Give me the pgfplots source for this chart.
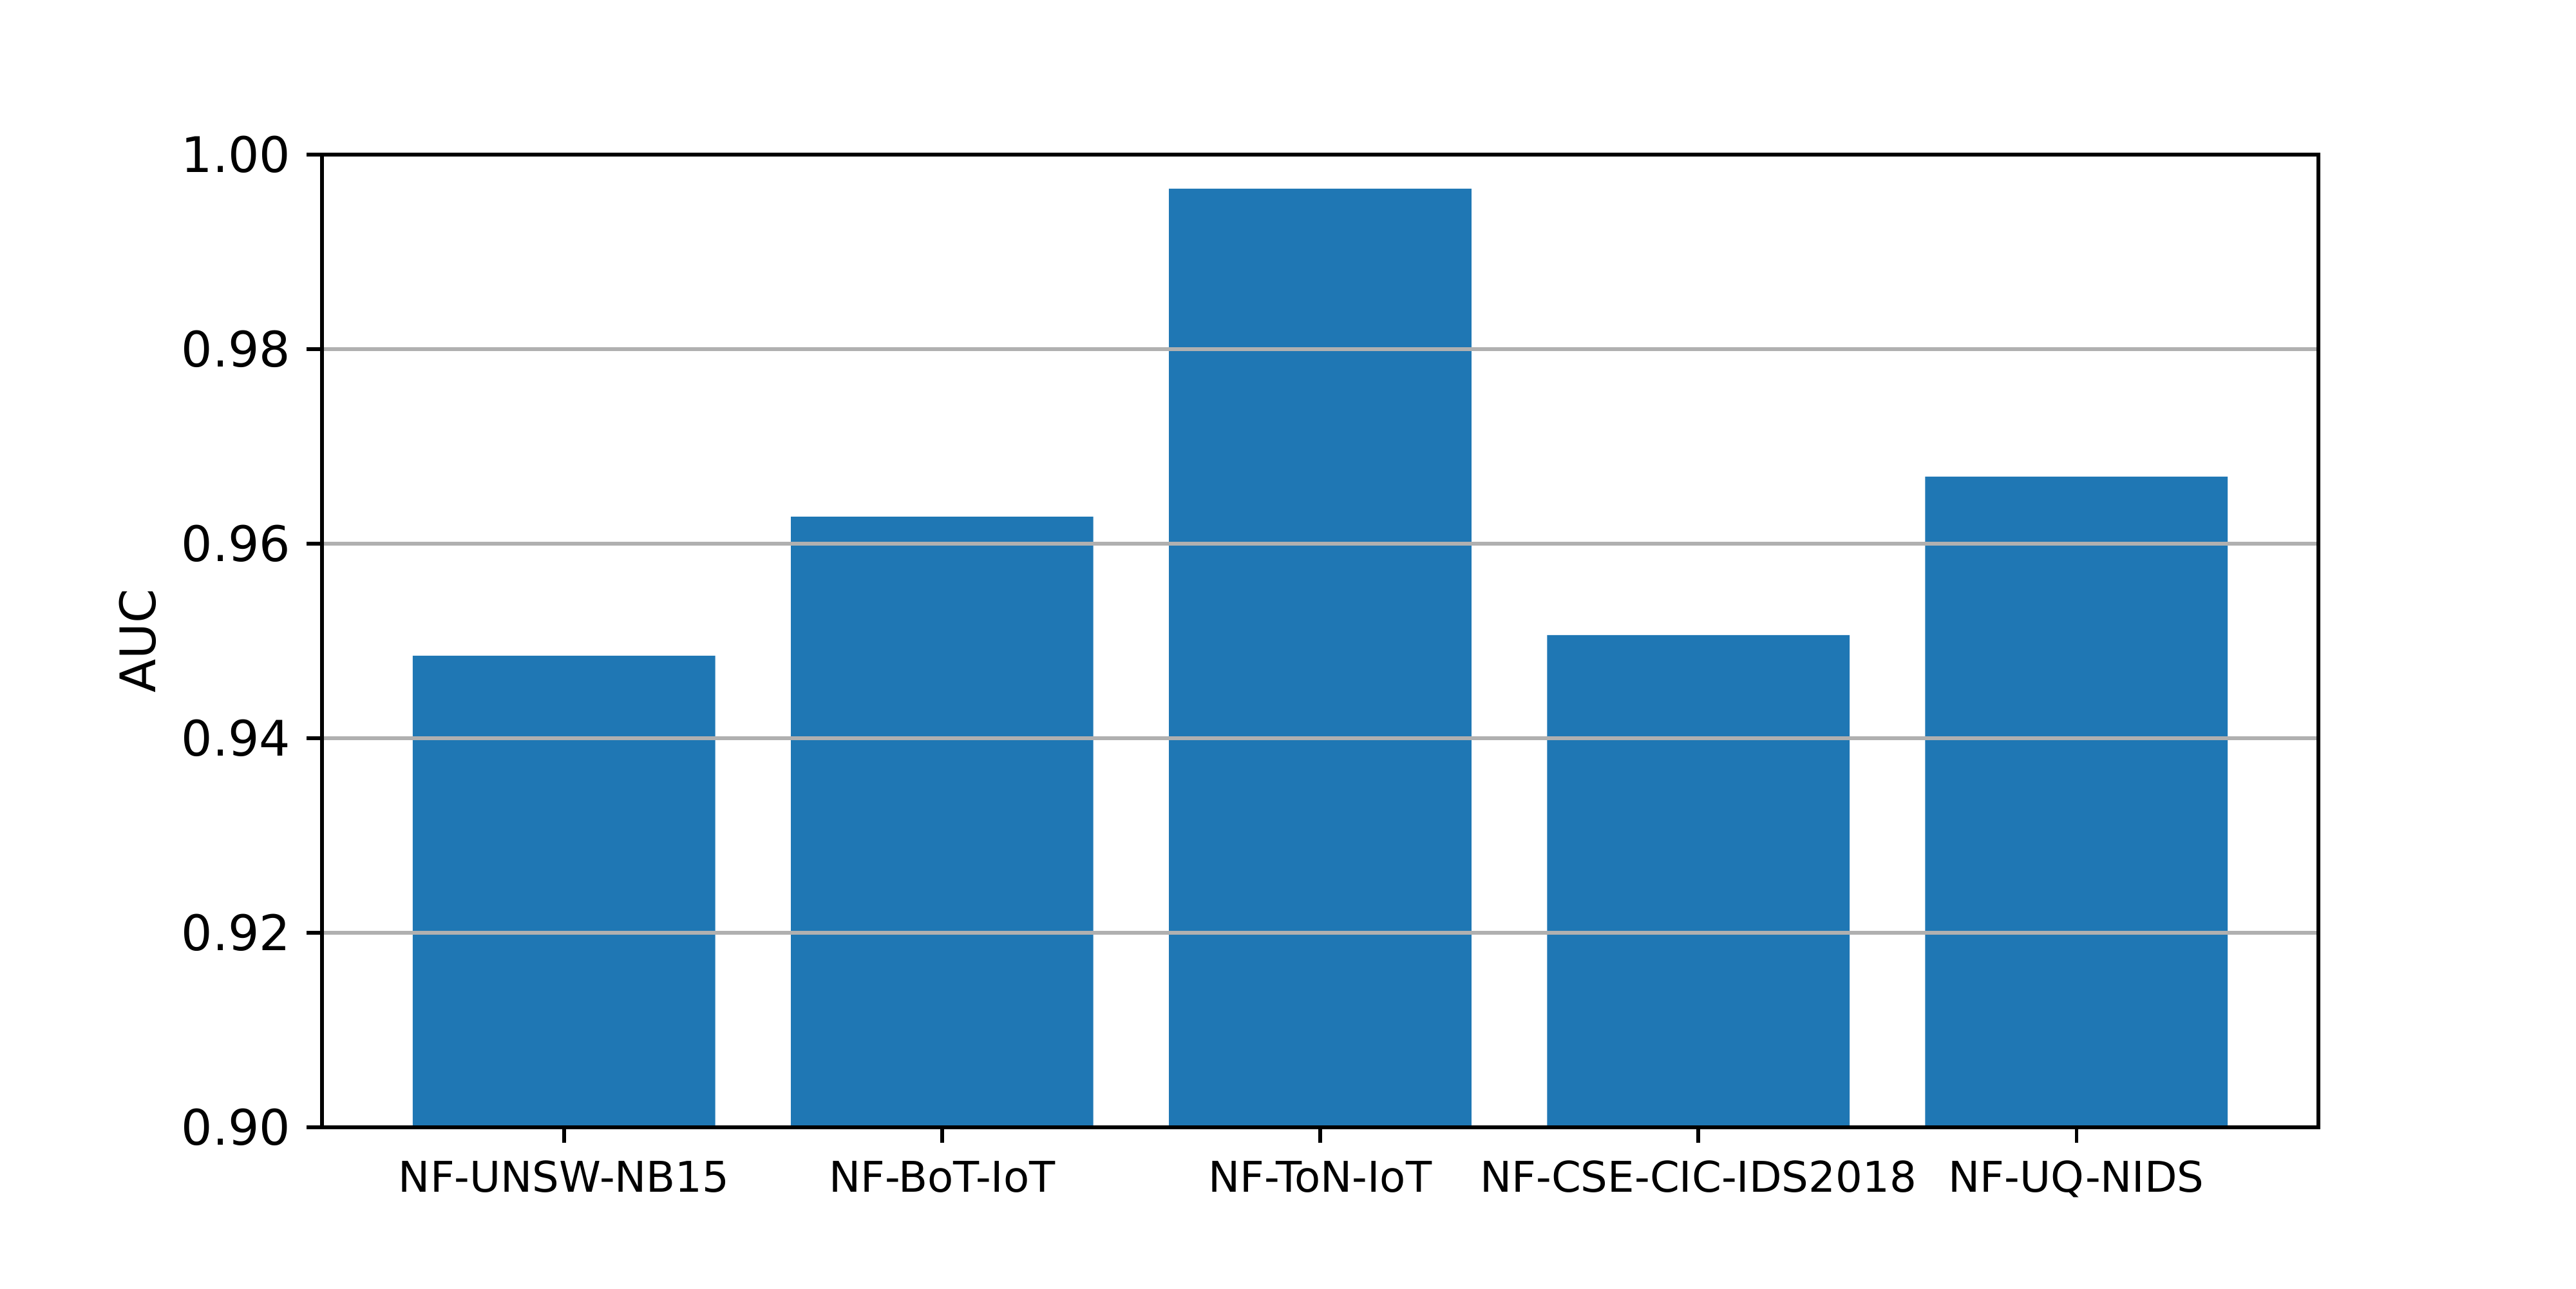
\documentclass[border=0pt]{standalone}
\usepackage{fontspec}
\setmainfont{DejaVu Sans}
\usepackage{pgfplots}
\pgfplotsset{compat=1.18}
\definecolor{barblue}{HTML}{1F77B4}
\definecolor{gridc}{HTML}{B0B0B0}
\begin{document}
\begin{tikzpicture}
\begin{axis}[
  scale only axis,
  width=448.07pt, height=218.26pt,
  xmin=-0.64, xmax=4.64, ymin=0.9, ymax=1.0,
  xtick={0,1,2,3,4},
  xticklabels={NF-UNSW-NB15,NF-BoT-IoT,NF-ToN-IoT,NF-CSE-CIC-IDS2018,NF-UQ-NIDS},
  ytick={0.90,0.92,0.94,0.96,0.98,1.00},
  yticklabel style={font=\fontsize{11}{13}\selectfont, /pgf/number format/fixed, /pgf/number format/fixed zerofill, /pgf/number format/precision=2},
  /pgf/number format/assume math mode=true,
  ymajorgrids,
  grid style={gridc, line width=0.8pt},
  axis line style={line width=0.8pt},
  tick style={black, line width=0.8pt},
  tick align=outside,
  major tick length=3.5pt,
  xtick pos=lower, ytick pos=left,
  axis on top,
  ylabel={AUC},
  ylabel style={font=\fontsize{11}{13}\selectfont, at={(axis description cs:-0.0923,0.5)}, anchor=center},
  xticklabel style={font=\fontsize{9.5}{11}\selectfont, yshift=-0.5pt},
]
\addplot[ybar, bar width=0.8, fill=barblue, draw=none] coordinates {(0,0.94848) (1,0.96278) (2,0.99649) (3,0.95060) (4,0.96689)};
\coordinate (ll) at (rel axis cs:-0.16129,-0.16556);
\coordinate (ur) at (rel axis cs:1.12903,1.15894);
\end{axis}
\pgfresetboundingbox
\path[use as bounding box] (ll) rectangle (ur);
\end{tikzpicture}
\end{document}
